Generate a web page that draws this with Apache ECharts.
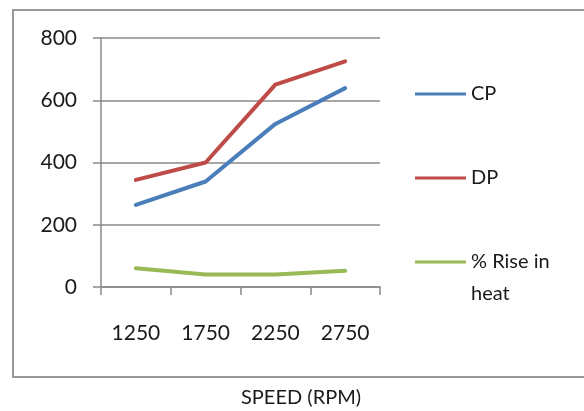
<!DOCTYPE html>
<html>
<head>
<meta charset="utf-8">
<script src="https://cdn.jsdelivr.net/npm/echarts@6/dist/echarts.min.js"></script>
<style>
html,body{margin:0;padding:0;background:#fff;}
#chart{width:584px;height:411px;}
</style>
</head>
<body>
<div id="chart"></div>
<script>
const categories = ['1250', '1750', '2250', '2750'];
const cpValues = [264, 339, 524, 639];
const dpValues = [344, 400, 650, 725];
const riseValues = [60, 40, 40, 52];
const yTicks = [0, 200, 400, 600, 800];
const xTitle = 'SPEED (RPM)';

const FONT = 'Lato';
const TXT = '#1a1a1a';
const GRID = '#8a8a8a';

const chart = echarts.init(document.getElementById('chart'), null, {renderer: 'canvas'});
const legendBase = {
  orient: 'vertical',
  left: 415,
  padding: 0,
  icon: 'rect',
  itemWidth: 51,
  itemHeight: 3,
  selectedMode: false,
  textStyle: {fontFamily: FONT, fontSize: 20, color: TXT, lineHeight: 32}
};
chart.setOption({
  animation: false,
  backgroundColor: '#fff',
  graphic: [{
    type: 'rect',
    shape: {x: 13, y: 10, width: 620, height: 367},
    style: {fill: 'none', stroke: '#999', lineWidth: 2},
    silent: true
  }],
  title: {
    text: xTitle,
    left: 241,
    top: 386,
    padding: 0,
    textStyle: {fontFamily: FONT, fontSize: 20, fontWeight: 'normal', color: TXT, lineHeight: 24}
  },
  legend: [
    Object.assign({}, legendBase, {top: 78, data: ['CP']}),
    Object.assign({}, legendBase, {top: 162, data: ['DP']}),
    Object.assign({}, legendBase, {top: 214, data: ['% Rise in heat'],
      formatter: function () { return '\n% Rise in\nheat'; }})
  ],
  grid: {left: 101, right: 204, top: 38, bottom: 124, containLabel: false},
  xAxis: {
    type: 'category',
    data: categories,
    boundaryGap: true,
    axisLine: {lineStyle: {color: GRID, width: 1.5}},
    axisTick: {show: true, length: 8, lineStyle: {color: GRID, width: 1.5}},
    axisLabel: {fontFamily: FONT, fontSize: 21, color: TXT, margin: 36}
  },
  yAxis: {
    type: 'value',
    min: 0,
    max: 800,
    interval: 200,
    axisLine: {show: true, lineStyle: {color: GRID, width: 1.5}},
    axisTick: {show: true, length: 8, lineStyle: {color: GRID, width: 1.5}},
    splitLine: {lineStyle: {color: GRID, width: 1.5}},
    axisLabel: {fontFamily: FONT, fontSize: 21, color: TXT, margin: 24,
      formatter: function (v) { return yTicks.indexOf(v) >= 0 ? String(v) : ''; }}
  },
  series: [
    {name: 'CP', type: 'line', data: cpValues, showSymbol: false, symbol: 'none',
      color: '#4A7EBB', lineStyle: {width: 4, color: '#4A7EBB', cap: 'round', join: 'round'}},
    {name: 'DP', type: 'line', data: dpValues, showSymbol: false, symbol: 'none',
      color: '#BE4B48', lineStyle: {width: 4, color: '#BE4B48', cap: 'round', join: 'round'}},
    {name: '% Rise in heat', type: 'line', data: riseValues, showSymbol: false, symbol: 'none',
      color: '#98B954', lineStyle: {width: 4, color: '#98B954', cap: 'round', join: 'round'}}
  ]
});
</script>
</body>
</html>
